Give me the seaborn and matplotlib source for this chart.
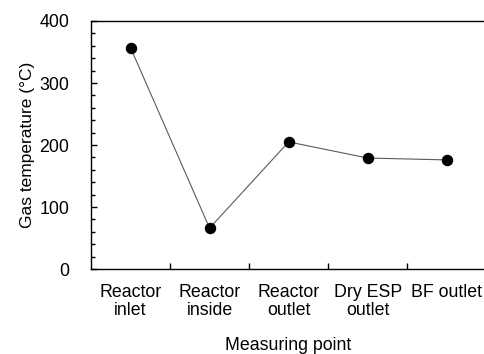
import matplotlib
matplotlib.use("Agg")
import matplotlib.pyplot as plt
import seaborn as sns
import pandas as pd
from matplotlib.ticker import MultipleLocator, FixedLocator

# Gas temperature at each measuring point
points = ["Reactor\ninlet", "Reactor\ninside", "Reactor\noutlet", "Dry ESP\noutlet", "BF outlet"]
temperatures = [357, 66, 205, 179, 176]

sns.set_theme(style="ticks")
plt.rcParams["font.family"] = ["Liberation Sans", "DejaVu Sans"]
plt.rcParams["text.color"] = "black"
plt.rcParams["axes.labelcolor"] = "black"
plt.rcParams["xtick.labelcolor"] = "black"
plt.rcParams["ytick.labelcolor"] = "black"

df = pd.DataFrame({"pos": range(len(points)), "temp": temperatures})

fig = plt.figure(figsize=(4.85, 3.54), dpi=100)
ax = fig.add_axes([0.1876, 0.240, 0.815, 0.7007])

sns.lineplot(data=df, x="pos", y="temp", ax=ax, color="#5a5a5a", linewidth=0.8)
sns.scatterplot(data=df, x="pos", y="temp", ax=ax, color="black", s=68,
                edgecolor="black", linewidth=0, zorder=3)

ax.set_xlim(-0.5, len(points) - 0.5)
ax.set_ylim(0, 400)

ax.set_xticks(range(len(points)))
ax.set_xticklabels(points, fontsize=12.8, linespacing=1.08)
ax.xaxis.set_minor_locator(FixedLocator([i + 0.5 for i in range(len(points) - 1)]))
ax.tick_params(axis="x", which="major", length=0, pad=11)
ax.tick_params(axis="x", which="minor", direction="in", length=4.3, width=1, color="black")

ax.yaxis.set_major_locator(MultipleLocator(100))
ax.yaxis.set_minor_locator(MultipleLocator(20))
ax.tick_params(axis="y", which="major", direction="in", length=4.3, width=1,
               labelsize=12.8, color="black", pad=15.5)
ax.tick_params(axis="y", which="minor", direction="in", length=3, width=1, color="black")

ax.set_xlabel("Measuring point", fontsize=12.8, labelpad=13)
ax.set_ylabel("Gas temperature (°C)", fontsize=12.5, labelpad=3)

for side in ["left", "bottom", "top"]:
    ax.spines[side].set_linewidth(1.0)
    ax.spines[side].set_color("black")
ax.spines["right"].set_visible(False)

fig.savefig("out.png", dpi=100)
